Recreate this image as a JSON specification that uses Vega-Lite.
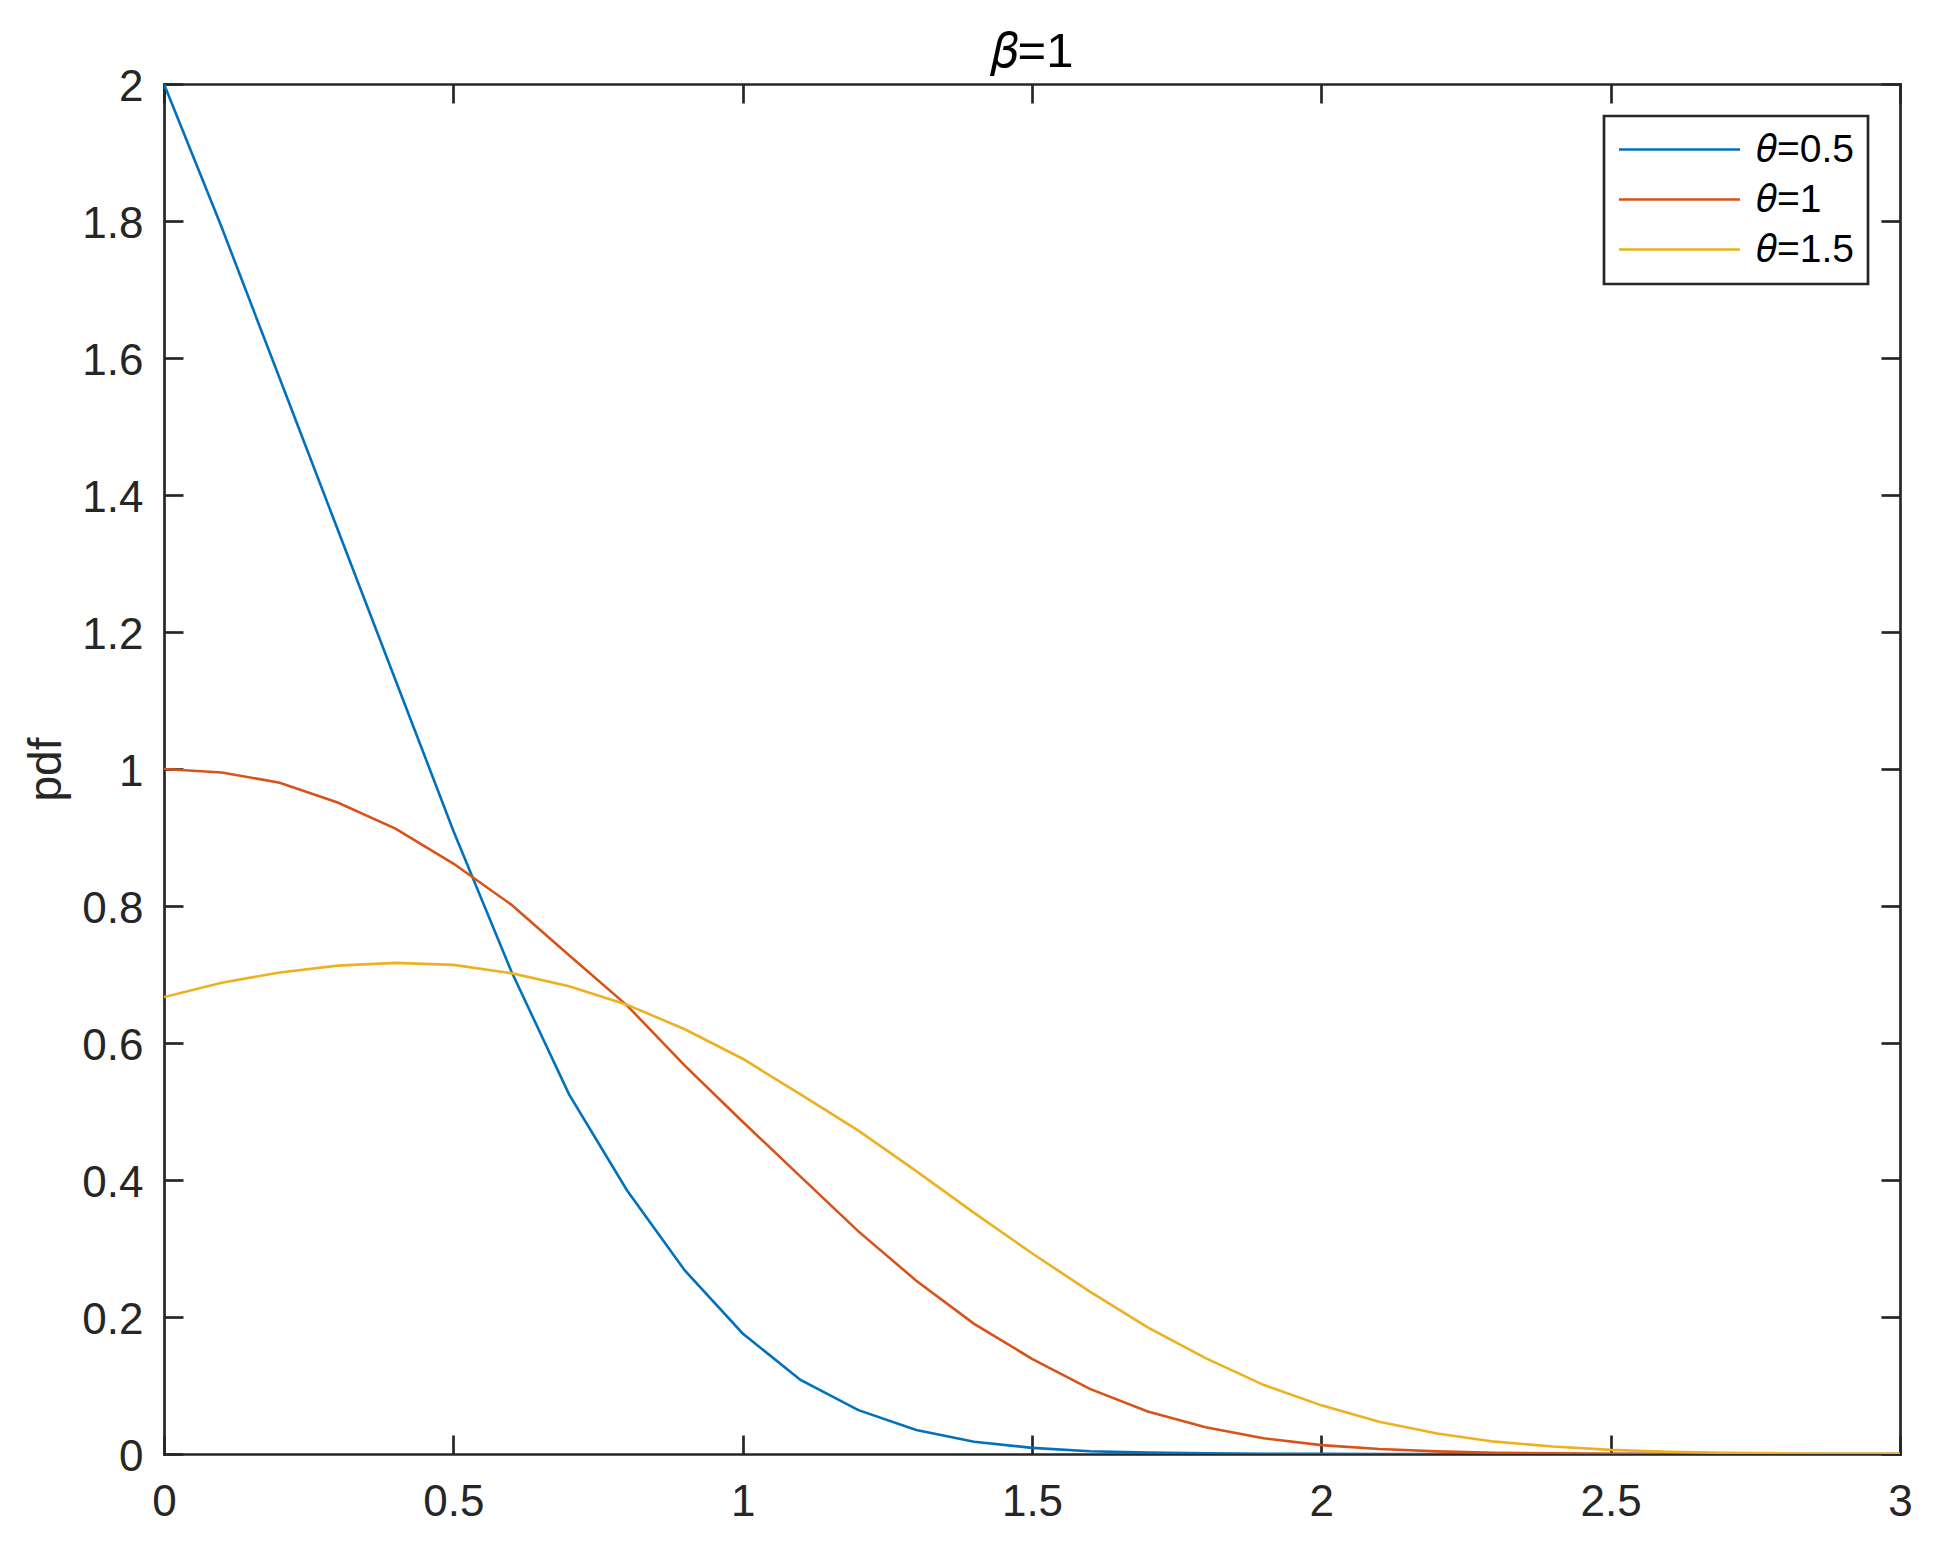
{
  "$schema": "https://vega.github.io/schema/vega-lite/v6.json",
  "width": 1736,
  "height": 1370,
  "autosize": {"type": "none"},
  "padding": {"left": 164, "top": 84, "right": 47, "bottom": 101},
  "background": "white",
  "title": {"text": "𝛽=1", "fontSize": 49, "font": "Liberation Sans", "fontWeight": "normal", "color": "#000000", "frame": "group", "anchor": "middle", "baseline": "alphabetic", "offset": -51},
  "data": {"values": [
    {"series": "𝜃=0.5", "x": 0.0, "pdf": 2.0},
    {"series": "𝜃=0.5", "x": 0.1, "pdf": 1.79},
    {"series": "𝜃=0.5", "x": 0.2, "pdf": 1.57},
    {"series": "𝜃=0.5", "x": 0.3, "pdf": 1.35},
    {"series": "𝜃=0.5", "x": 0.4, "pdf": 1.13},
    {"series": "𝜃=0.5", "x": 0.5, "pdf": 0.91},
    {"series": "𝜃=0.5", "x": 0.6, "pdf": 0.705},
    {"series": "𝜃=0.5", "x": 0.7, "pdf": 0.525},
    {"series": "𝜃=0.5", "x": 0.8, "pdf": 0.385},
    {"series": "𝜃=0.5", "x": 0.9, "pdf": 0.268},
    {"series": "𝜃=0.5", "x": 1.0, "pdf": 0.176},
    {"series": "𝜃=0.5", "x": 1.1, "pdf": 0.108},
    {"series": "𝜃=0.5", "x": 1.2, "pdf": 0.064},
    {"series": "𝜃=0.5", "x": 1.3, "pdf": 0.035},
    {"series": "𝜃=0.5", "x": 1.4, "pdf": 0.018},
    {"series": "𝜃=0.5", "x": 1.5, "pdf": 0.009},
    {"series": "𝜃=0.5", "x": 1.6, "pdf": 0.004},
    {"series": "𝜃=0.5", "x": 1.7, "pdf": 0.002},
    {"series": "𝜃=0.5", "x": 1.8, "pdf": 0.001},
    {"series": "𝜃=0.5", "x": 1.9, "pdf": 0.0004},
    {"series": "𝜃=0.5", "x": 2.0, "pdf": 0.0002},
    {"series": "𝜃=0.5", "x": 2.1, "pdf": 0.0001},
    {"series": "𝜃=0.5", "x": 2.2, "pdf": 0.0},
    {"series": "𝜃=0.5", "x": 2.3, "pdf": 0.0},
    {"series": "𝜃=0.5", "x": 2.4, "pdf": 0.0},
    {"series": "𝜃=0.5", "x": 2.5, "pdf": 0.0},
    {"series": "𝜃=0.5", "x": 2.6, "pdf": 0.0},
    {"series": "𝜃=0.5", "x": 2.7, "pdf": 0.0},
    {"series": "𝜃=0.5", "x": 2.8, "pdf": 0.0},
    {"series": "𝜃=0.5", "x": 2.9, "pdf": 0.0},
    {"series": "𝜃=0.5", "x": 3.0, "pdf": 0.0},
    {"series": "𝜃=1", "x": 0.0, "pdf": 1.0},
    {"series": "𝜃=1", "x": 0.1, "pdf": 0.995},
    {"series": "𝜃=1", "x": 0.2, "pdf": 0.98},
    {"series": "𝜃=1", "x": 0.3, "pdf": 0.951},
    {"series": "𝜃=1", "x": 0.4, "pdf": 0.913},
    {"series": "𝜃=1", "x": 0.5, "pdf": 0.862},
    {"series": "𝜃=1", "x": 0.6, "pdf": 0.802},
    {"series": "𝜃=1", "x": 0.7, "pdf": 0.728},
    {"series": "𝜃=1", "x": 0.8, "pdf": 0.655},
    {"series": "𝜃=1", "x": 0.9, "pdf": 0.567},
    {"series": "𝜃=1", "x": 1.0, "pdf": 0.485},
    {"series": "𝜃=1", "x": 1.1, "pdf": 0.405},
    {"series": "𝜃=1", "x": 1.2, "pdf": 0.325},
    {"series": "𝜃=1", "x": 1.3, "pdf": 0.253},
    {"series": "𝜃=1", "x": 1.4, "pdf": 0.19},
    {"series": "𝜃=1", "x": 1.5, "pdf": 0.139},
    {"series": "𝜃=1", "x": 1.6, "pdf": 0.095},
    {"series": "𝜃=1", "x": 1.7, "pdf": 0.062},
    {"series": "𝜃=1", "x": 1.8, "pdf": 0.039},
    {"series": "𝜃=1", "x": 1.9, "pdf": 0.023},
    {"series": "𝜃=1", "x": 2.0, "pdf": 0.013},
    {"series": "𝜃=1", "x": 2.1, "pdf": 0.0072},
    {"series": "𝜃=1", "x": 2.2, "pdf": 0.0038},
    {"series": "𝜃=1", "x": 2.3, "pdf": 0.0019},
    {"series": "𝜃=1", "x": 2.4, "pdf": 0.0009},
    {"series": "𝜃=1", "x": 2.5, "pdf": 0.0004},
    {"series": "𝜃=1", "x": 2.6, "pdf": 0.0002},
    {"series": "𝜃=1", "x": 2.7, "pdf": 0.0001},
    {"series": "𝜃=1", "x": 2.8, "pdf": 0.0},
    {"series": "𝜃=1", "x": 2.9, "pdf": 0.0},
    {"series": "𝜃=1", "x": 3.0, "pdf": 0.0},
    {"series": "𝜃=1.5", "x": 0.0, "pdf": 0.667},
    {"series": "𝜃=1.5", "x": 0.1, "pdf": 0.688},
    {"series": "𝜃=1.5", "x": 0.2, "pdf": 0.703},
    {"series": "𝜃=1.5", "x": 0.3, "pdf": 0.713},
    {"series": "𝜃=1.5", "x": 0.4, "pdf": 0.717},
    {"series": "𝜃=1.5", "x": 0.5, "pdf": 0.714},
    {"series": "𝜃=1.5", "x": 0.6, "pdf": 0.702},
    {"series": "𝜃=1.5", "x": 0.7, "pdf": 0.683},
    {"series": "𝜃=1.5", "x": 0.8, "pdf": 0.656},
    {"series": "𝜃=1.5", "x": 0.9, "pdf": 0.62},
    {"series": "𝜃=1.5", "x": 1.0, "pdf": 0.577},
    {"series": "𝜃=1.5", "x": 1.1, "pdf": 0.525},
    {"series": "𝜃=1.5", "x": 1.2, "pdf": 0.472},
    {"series": "𝜃=1.5", "x": 1.3, "pdf": 0.413},
    {"series": "𝜃=1.5", "x": 1.4, "pdf": 0.352},
    {"series": "𝜃=1.5", "x": 1.5, "pdf": 0.293},
    {"series": "𝜃=1.5", "x": 1.6, "pdf": 0.237},
    {"series": "𝜃=1.5", "x": 1.7, "pdf": 0.185},
    {"series": "𝜃=1.5", "x": 1.8, "pdf": 0.14},
    {"series": "𝜃=1.5", "x": 1.9, "pdf": 0.101},
    {"series": "𝜃=1.5", "x": 2.0, "pdf": 0.071},
    {"series": "𝜃=1.5", "x": 2.1, "pdf": 0.047},
    {"series": "𝜃=1.5", "x": 2.2, "pdf": 0.03},
    {"series": "𝜃=1.5", "x": 2.3, "pdf": 0.018},
    {"series": "𝜃=1.5", "x": 2.4, "pdf": 0.011},
    {"series": "𝜃=1.5", "x": 2.5, "pdf": 0.006},
    {"series": "𝜃=1.5", "x": 2.6, "pdf": 0.0033},
    {"series": "𝜃=1.5", "x": 2.7, "pdf": 0.0017},
    {"series": "𝜃=1.5", "x": 2.8, "pdf": 0.0008},
    {"series": "𝜃=1.5", "x": 2.9, "pdf": 0.0004},
    {"series": "𝜃=1.5", "x": 3.0, "pdf": 0.0002}
  ]},
  "layer": [
    {
      "mark": {"type": "line", "strokeWidth": 2.6, "clip": true},
      "encoding": {
        "x": {"field": "x", "type": "quantitative", "scale": {"domain": [0, 3], "nice": false},
              "axis": {"orient": "bottom", "values": [0, 0.5, 1, 1.5, 2, 2.5, 3], "format": "~g", "title": null, "labelPadding": 45}},
        "y": {"field": "pdf", "type": "quantitative", "scale": {"domain": [0, 2], "nice": false},
              "axis": {"orient": "left", "values": [0, 0.2, 0.4, 0.6, 0.8, 1, 1.2, 1.4, 1.6, 1.8, 2], "format": "~g", "title": "pdf", "labelPadding": 40, "labelOffset": 3, "titlePadding": 11}},
        "color": {"field": "series", "type": "nominal",
                  "scale": {"domain": ["𝜃=0.5", "𝜃=1", "𝜃=1.5"], "range": ["#0072BD", "#D95319", "#EDB120"]},
                  "legend": {"orient": "top-right", "offset": 32, "title": null, "symbolType": "M-4,0L4,0", "symbolSize": 915, "symbolStrokeWidth": 2.6, "symbolOffset": 42, "labelOffset": 58, "labelFontSize": 39, "labelFont": "Liberation Sans", "labelColor": "#000000", "labelLimit": 0, "rowPadding": 10, "padding": 14, "strokeColor": "#262626", "fillColor": "white"}}
      }
    },
    {
      "mark": {"type": "point", "opacity": 0},
      "encoding": {
        "x": {"field": "x", "type": "quantitative", "axis": {"orient": "top", "values": [0, 0.5, 1, 1.5, 2, 2.5, 3], "labels": false, "title": null}},
        "y": {"field": "pdf", "type": "quantitative", "axis": {"orient": "right", "values": [0, 0.2, 0.4, 0.6, 0.8, 1, 1.2, 1.4, 1.6, 1.8, 2], "labels": false, "title": null}}
      }
    }
  ],
  "resolve": {"axis": {"x": "independent", "y": "independent"}},
  "config": {
    "font": "Liberation Sans",
    "view": {"stroke": null},
    "legend": {"strokeWidth": 2.7},
    "axis": {"domainColor": "#262626", "domainWidth": 2.7, "domainCap": "square", "tickColor": "#262626", "tickWidth": 2.7, "tickSize": -19, "grid": false, "labelFont": "Liberation Sans", "labelFontSize": 44, "labelColor": "#262626", "labelFlush": false, "labelOverlap": false, "titleFont": "Liberation Sans", "titleFontSize": 46, "titleFontWeight": "normal", "titleColor": "#262626"}
  }
}
